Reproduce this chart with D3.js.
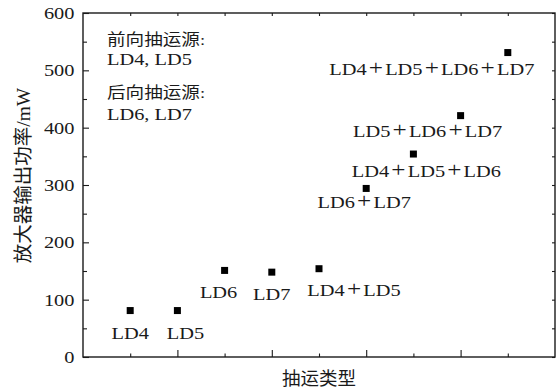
<!DOCTYPE html>
<html>
<head>
<meta charset="utf-8">
<script src="https://cdn.jsdelivr.net/npm/d3@7"></script>
<style>
  html, body { margin: 0; padding: 0; background: #fff; }
  svg { display: block; }
</style>
</head>
<body>
<svg id="chart" width="560" height="392"></svg>
<script>
// Pump configurations and measured amplifier output power (mW)
const categories = ["LD4", "LD5", "LD6", "LD7", "LD4+LD5", "LD6+LD7",
                    "LD4+LD5+LD6", "LD5+LD6+LD7", "LD4+LD5+LD6+LD7"];
const powerValues = [81, 81, 151, 148, 154, 294, 354, 421, 531];
const yTickValues = [0, 100, 200, 300, 400, 500, 600];
const noteLines = ["前向抽运源:", "LD4, LD5", "后向抽运源:", "LD6, LD7"];
const xAxisTitle = "抽运类型";
const yAxisTitle = "放大器输出功率/mW";

// Label placement relative to each marker: [dx of label centre, dy of baseline]
const labelOffsets = [[0, 28], [8, 28], [-6, 28], [0, 28], [35, 27],
                      [-2, 20], [13, 23], [-33, 21], [-76, 22]];

const svg = d3.select("#chart");
const INK = "#1a1a1a";
const SERIF = "Liberation Serif, Noto Sans CJK SC, serif";
const SX = 1.2;            // horizontal widening of the serif lettering
const frame = { left: 83, right: 555, top: 13, bottom: 357 };

const x = d3.scaleLinear().domain([0, categories.length + 1]).range([frame.left, frame.right]);
const y = d3.scaleLinear().domain([0, 600]).range([frame.bottom, frame.top]);

// text helper: horizontally widened lettering anchored at (px, py)
function wideText(px, py, str, anchor, size) {
  return svg.append("text")
    .attr("transform", `translate(${px},${py}) scale(${SX},1)`)
    .attr("text-anchor", anchor)
    .attr("font-family", SERIF)
    .attr("font-size", size)
    .attr("fill", INK)
    .text(str);
}

// ---- axes (ticks point inward) ----
const yMinor = d3.range(0, 601, 50);
const xTicks = d3.range(1, categories.length + 1);

function styleAxis(g) {
  g.select(".domain").remove();
  g.selectAll("line").attr("stroke", INK).attr("stroke-width", 1.1);
  g.selectAll("text").remove();
}

// left axis: majors every 100, minors every 50
svg.append("g").attr("transform", `translate(${frame.left},0)`)
  .call(d3.axisLeft(y).tickValues(yMinor).tickSize(-4).tickFormat(""))
  .call(styleAxis)
  .selectAll(".tick line")
  .attr("x2", d => (d % 100 === 0 ? 6 : 4));

// right axis: short inward ticks
svg.append("g").attr("transform", `translate(${frame.right},0)`)
  .call(d3.axisRight(y).tickValues(yMinor).tickSize(-3).tickFormat(""))
  .call(styleAxis);

// bottom axis: long ticks on even slots, short on odd
svg.append("g").attr("transform", `translate(0,${frame.bottom})`)
  .call(d3.axisBottom(x).tickValues(xTicks).tickSize(-4).tickFormat(""))
  .call(styleAxis)
  .selectAll(".tick line")
  .attr("y2", d => (d % 2 === 0 ? -7 : -3.5));

// top axis
svg.append("g").attr("transform", `translate(0,${frame.top})`)
  .call(d3.axisTop(x).tickValues(xTicks).tickSize(-3).tickFormat(""))
  .call(styleAxis);

// frame
svg.append("rect")
  .attr("x", frame.left).attr("y", frame.top)
  .attr("width", frame.right - frame.left).attr("height", frame.bottom - frame.top)
  .attr("fill", "none").attr("stroke", INK).attr("stroke-width", 1.4);

// y tick labels
yTickValues.forEach(v => wideText(frame.left - 8.5, y(v) + 6, String(v), "end", 17));

// ---- markers ----
const data = categories.map((c, i) => ({ name: c, value: powerValues[i], idx: i + 1, off: labelOffsets[i] }));
const size = 7;
svg.append("g").selectAll("rect").data(data).join("rect")
  .attr("x", d => x(d.idx) - size / 2)
  .attr("y", d => y(d.value) - size / 2)
  .attr("width", size).attr("height", size)
  .attr("fill", "#000");

// ---- point labels (a larger plus sign with a little air around it) ----
data.forEach(d => {
  const t = svg.append("text")
    .attr("transform", `translate(${x(d.idx) + d.off[0]},${y(d.value) + d.off[1]}) scale(${SX},1)`)
    .attr("text-anchor", "middle")
    .attr("font-family", SERIF)
    .attr("font-size", 17)
    .attr("fill", INK);
  d.name.split("+").forEach((part, i) => {
    if (i > 0) t.append("tspan").attr("dx", 1.8).attr("font-size", 21).text("+");
    t.append("tspan").attr("dx", i > 0 ? 1.8 : 0).text(part);
  });
});

// ---- pump-direction note ----
const noteY = [45, 65, 98, 120];
noteLines.forEach((s, i) => {
  const isCJK = /[\u4e00-\u9fff]/.test(s);
  wideText(107, noteY[i], s, "start", isCJK ? 15.5 : 17);
});

// ---- axis titles ----
svg.append("text")
  .attr("x", (frame.left + frame.right) / 2).attr("y", 385)
  .attr("text-anchor", "middle")
  .attr("font-family", SERIF).attr("font-size", 18.5).attr("fill", INK)
  .text(xAxisTitle);

svg.append("text")
  .attr("transform", `translate(30,${(86 + 265) / 2}) rotate(-90)`)
  .attr("text-anchor", "middle")
  .attr("font-family", SERIF).attr("font-size", 19.5).attr("fill", INK)
  .text(yAxisTitle);
</script>
</body>
</html>
